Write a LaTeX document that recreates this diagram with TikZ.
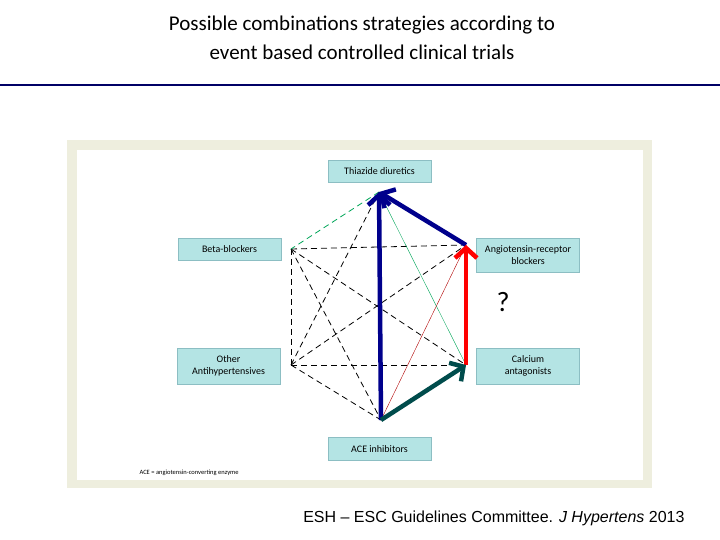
\documentclass[tikz,border=0pt]{standalone}
\usepackage{fontspec}
\setmainfont{Carlito}
\newfontfamily\arial{Liberation Sans}
\usetikzlibrary{arrows.meta}
\definecolor{frame}{RGB}{238,238,222}
\definecolor{boxfill}{RGB}{180,228,228}
\definecolor{boxline}{RGB}{140,190,195}
\begin{document}
\begin{tikzpicture}[x=1pt,y=-1pt,
  box/.style={draw=boxline,fill=boxfill,minimum width=103pt,align=center,font=\fontsize{10}{11.5}\selectfont,inner sep=1pt},
  dsh/.style={thick,dash pattern=on 6pt off 4pt},
  thk/.style={line width=4.5pt,-{Straight Barb[length=10pt,width=22pt,line width=4.5pt]}}]
\useasboundingbox (0,0) rectangle (720,540);
\node[font=\fontsize{21}{29}\selectfont,align=center] (title) at (362,38) {Possible combinations strategies according to\\event based controlled clinical trials};
\draw[line width=2pt,draw=blue!40!black] (0,85) -- (720,85);
\fill[frame] (67,140) rectangle (652,488);
\fill[white] (77,150) rectangle (643,480);
\node[box,minimum height=22pt] (td) at (379.5,171) {Thiazide diuretics};
\node[box,minimum height=22pt] (bb) at (229.5,249) {Beta-blockers};
\node[box,minimum height=34pt] (arb) at (528,255) {Angiotensin-receptor\\blockers};
\node[box,minimum height=36pt] (oa) at (228.5,366) {Other\\Antihypertensives};
\node[box,minimum height=36pt] (ca) at (528,366) {Calcium\\antagonists};
\node[box,minimum height=23pt] (ace) at (379.5,449) {ACE inhibitors};
\node[font=\fontsize{6.5}{7}\selectfont,anchor=west] (fn) at (136,473) {ACE = angiotensin-converting enzyme};
\coordinate (T) at (379,192);
\coordinate (B) at (291,249);
\coordinate (A) at (466,245);
\coordinate (O) at (291,365);
\coordinate (C) at (466,365);
\coordinate (E) at (381,420);
\draw[dsh] (B) -- (A);
\draw[dsh] (O) -- (C);
\draw[dsh] (B) -- (O);
\draw[dsh] (B) -- (C);
\draw[dsh] (B) -- (E);
\draw[dsh] (O) -- (A);
\draw[dsh] (O) -- (T);
\draw[dsh] (O) -- (E);
\draw[dsh,draw=teal!70!green] (T) -- (B);
\draw[teal!70!green,thin] (T) -- (C);
\draw[red!70!black,thin] (E) -- (A);
\draw[thk,draw=blue!55!black] (E) -- (T);
\draw[thk,draw=blue!55!black] (A) -- (T);
\draw[thk,draw=red] (C) -- (A);
\draw[thk,draw=teal!60!black] (E) -- (C);
\node[font=\fontsize{28}{30}\selectfont] (q) at (503,302) {?};
\node[font=\arial\fontsize{16}{18}\selectfont,anchor=east] (ref) at (688,518) {ESH – ESC Guidelines Committee. \textit{J Hypertens} 2013};
\end{tikzpicture}
\end{document}
